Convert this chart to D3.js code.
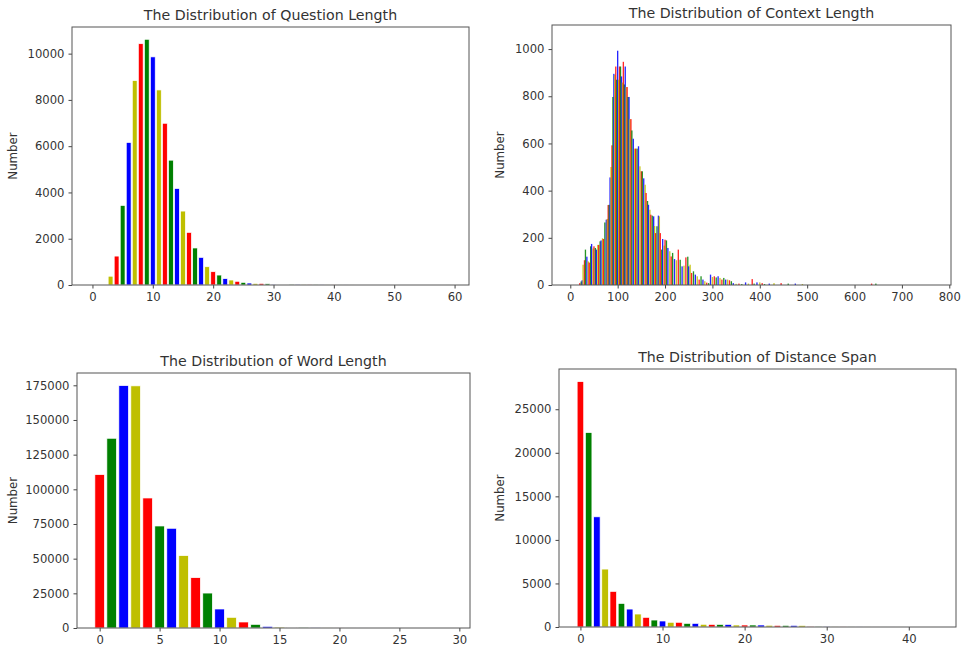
<!DOCTYPE html>
<html><head><meta charset="utf-8">
<script src="https://cdn.jsdelivr.net/npm/d3@7/dist/d3.min.js"></script>
<style>
body{margin:0;background:#fff;}
text{font-family:"DejaVu Sans",sans-serif;fill:#333;}
</style></head>
<body><svg id="chart" width="961" height="650"></svg>
<script>
const barColors = ["#ff0000", "#008000", "#0000ff", "#bfbf00"];

// Question length
const questionLengths = d3.range(0, 60);
const questionCounts = [0,0,0,380,1250,3440,6160,8835,10430,10620,9860,8430,6990,5395,4170,3195,2275,1600,1195,790,575,430,275,215,160,115,85,70,70,55,35,25,18,12,8,6,5,4,3,2,2,1,1,1,0,0,0,0,0,0,0,0,0,0,0,0,0,0,0,1];
const questionXTicks = [0,10,20,30,40,50,60];
const questionYTicks = [0,2000,4000,6000,8000,10000];

// Context length
const contextLengths = [20,23,25,27,30,32,35,38,40,43,45,48,50,53,55,58,60,63,65,68,70,73,76,78,80,82,84,86,88,90,92,94,96,98,100,102,104,106,108,110,112,114,116,118,120,122,124,126,128,130,133,136,138,141,144,147,150,152,155,158,160,163,165,168,170,173,176,178,180,183,186,188,190,193,195,198,200,203,206,210,213,216,220,224,228,232,236,240,244,248,250,253,256,260,264,268,272,276,280,284,288,292,296,300,304,308,312,316,320,324,328,332,336,340,344,350,356,362,370,376,384,388,394,400,405,410,420,430,445,460,475,490,636,645];
const contextCounts = [8,15,20,86,105,150,120,100,95,164,174,155,164,157,150,170,170,185,189,198,195,265,277,280,339,340,456,500,592,797,895,890,926,870,993,870,926,926,884,858,946,850,926,839,839,797,797,703,703,655,620,578,578,578,588,503,482,482,452,425,390,356,340,319,298,294,291,250,220,249,294,291,220,150,195,167,192,189,157,143,121,136,110,105,150,107,79,82,117,120,79,86,51,58,44,37,23,37,23,16,10,8,44,34,37,32,37,30,23,30,23,23,20,16,8,5,6,4,11,6,25,6,11,11,8,4,6,8,8,6,6,4,6,6];
const contextXTicks = [0,100,200,300,400,500,600,700,800];
const contextYTicks = [0,200,400,600,800,1000];

// Word length
const wordLengths = d3.range(0, 30);
const wordCounts = [110600,136800,174800,174600,93750,73560,71900,52200,36300,25200,13700,7700,4330,2640,1200,700,300,150,80,40,20,10,5,3,2,1,1,0,0,1];
const wordXTicks = [0,5,10,15,20,25,30];
const wordYTicks = [0,25000,50000,75000,100000,125000,150000,175000];

// Distance span
const spanDistances = d3.range(0, 44);
const spanCounts = [28170,22320,12650,6650,4090,2710,2060,1490,1110,800,690,540,540,420,420,310,300,300,300,230,230,230,230,200,190,190,190,180,40,25,15,10,8,5,4,3,2,1,1,1,0,0,0,1];
const spanXTicks = [0,10,20,30,40];
const spanYTicks = [0,5000,10000,15000,20000,25000];

const svg = d3.select("#chart");

function panel(cfg){
  const {left, right, top, bottom} = cfg.box;
  const x = d3.scaleLinear().domain(cfg.xDomain).range([left, right]);
  const y = d3.scaleLinear().domain(cfg.yDomain).range([bottom, top]);
  const g = svg.append("g");
  const data = cfg.xs.map((v, i) => ({x: v, y: cfg.ys[i], i}));
  g.selectAll("rect").data(data).enter().append("rect")
    .attr("x", d => x(d.x - cfg.barWidth/2))
    .attr("width", d => Math.max(0.1, x(d.x + cfg.barWidth/2) - x(d.x - cfg.barWidth/2)))
    .attr("y", d => y(d.y))
    .attr("height", d => y(0) - y(d.y))
    .attr("fill", d => barColors[d.i % 4])
    .attr("fill-opacity", cfg.opacity || 1)
    .attr("stroke", cfg.edge ? "#fff" : "none")
    .attr("stroke-width", cfg.edge ? 0.7 : 0);
  const xa = g.append("g").attr("transform", `translate(0,${bottom})`)
    .call(d3.axisBottom(x).tickValues(cfg.xTicks).tickFormat(d3.format("d")).tickSize(3.5).tickPadding(4));
  const ya = g.append("g").attr("transform", `translate(${left},0)`)
    .call(d3.axisLeft(y).tickValues(cfg.yTicks).tickFormat(d3.format("d")).tickSize(3.5).tickPadding(4));
  [xa, ya].forEach(a => {
    a.select(".domain").remove();
    a.selectAll("line").attr("stroke", "#444");
    a.selectAll("text").attr("font-size", 11.6).attr("fill", "#333").style("font-family", "DejaVu Sans");
  });
  g.append("rect").attr("x", left).attr("y", top).attr("width", right - left).attr("height", bottom - top)
    .attr("fill", "none").attr("stroke", "#555").attr("stroke-width", 1);
  g.append("text").attr("x", (left + right) / 2).attr("y", top - 7)
    .attr("text-anchor", "middle").attr("font-size", 14.2).text(cfg.title);
  g.append("text").attr("transform", `translate(${cfg.ylabelX},${(top + bottom) / 2}) rotate(-90)`)
    .attr("text-anchor", "middle").attr("font-size", 11.8).text("Number");
}

panel({title: "The Distribution of Question Length", box: {left: 72, right: 469, top: 27, bottom: 285},
  xDomain: [-3.39, 62.39], yDomain: [0, 11151], xs: questionLengths, ys: questionCounts,
  xTicks: questionXTicks, yTicks: questionYTicks, barWidth: 0.8, edge: true, ylabelX: 17});
panel({title: "The Distribution of Context Length", box: {left: 552, right: 951, top: 25, bottom: 285},
  xDomain: [-38.6, 803.6], yDomain: [0, 1102], xs: contextLengths, ys: contextCounts,
  xTicks: contextXTicks, yTicks: contextYTicks, barWidth: 2.8, edge: false, opacity: 0.85, ylabelX: 504});
panel({title: "The Distribution of Word Length", box: {left: 77, right: 470, top: 373, bottom: 628},
  xDomain: [-1.89, 30.89], yDomain: [0, 183870], xs: wordLengths, ys: wordCounts,
  xTicks: wordXTicks, yTicks: wordYTicks, barWidth: 0.8, edge: true, ylabelX: 17});
panel({title: "The Distribution of Distance Span", box: {left: 559, right: 956, top: 369, bottom: 627},
  xDomain: [-2.61, 45.75], yDomain: [0, 29620], xs: spanDistances, ys: spanCounts,
  xTicks: spanXTicks, yTicks: spanYTicks, barWidth: 0.8, edge: true, ylabelX: 504});
</script></body></html>
